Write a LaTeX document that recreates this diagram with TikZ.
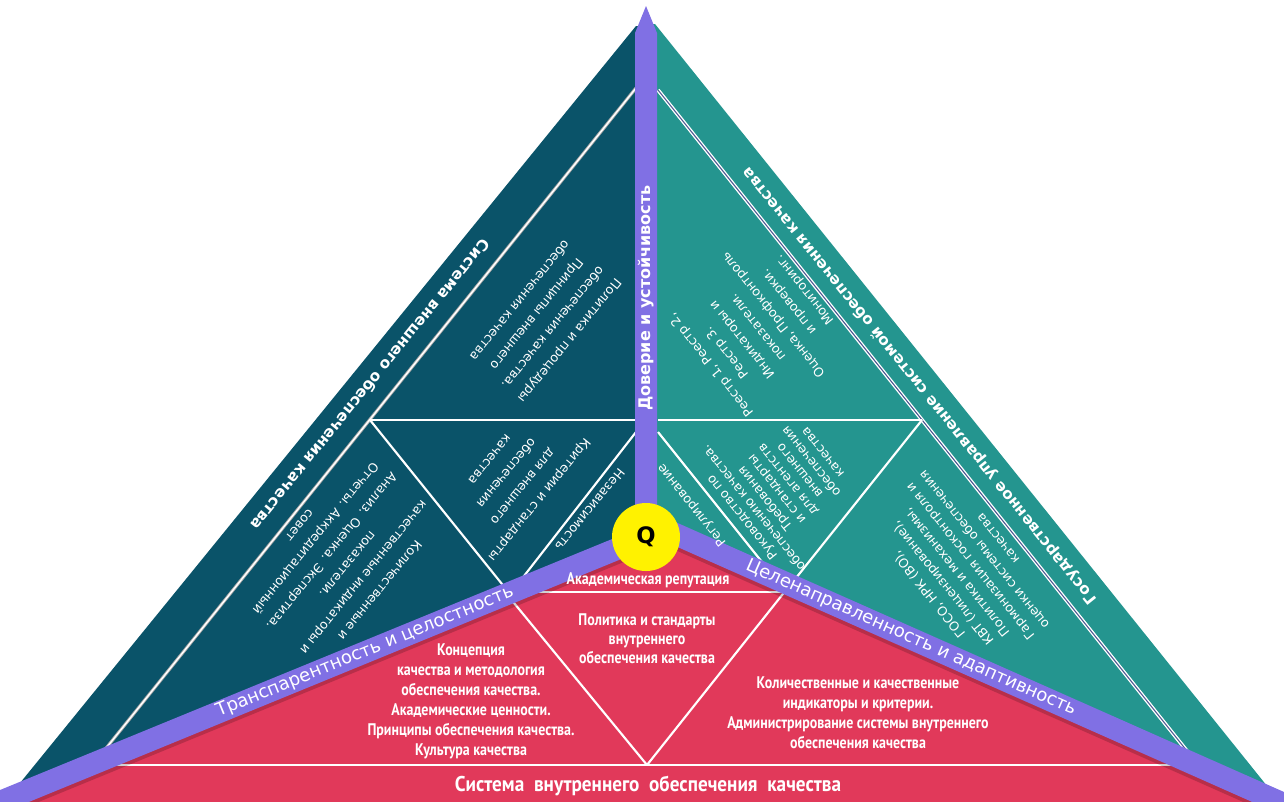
\documentclass[tikz,border=0pt]{standalone}
\usepackage{fontspec}
\setmainfont{DejaVu Sans}
\newfontfamily\condf[FakeStretch=0.83]{PT Sans}
\newfontfamily\condg[FakeStretch=0.9]{PT Sans}
\definecolor{darkteal}{HTML}{0A5369}
\definecolor{tealq}{HTML}{24958F}
\definecolor{redq}{HTML}{E1395A}
\definecolor{purpleq}{HTML}{8070E4}
\definecolor{navyq}{HTML}{4A5890}
\tikzset{
  ltxt/.style={text=white, font=\fontsize{9.5}{16}\selectfont, align=center, rotate=-129.1, inner sep=0pt},
  rtxt/.style={text=white, font=\fontsize{9.5}{15}\selectfont, align=center, rotate=128.8, inner sep=0pt},
  titleL/.style={text=white, font=\bfseries\fontsize{11.5}{14}\selectfont, rotate=-129.1, inner sep=0pt},
  titleR/.style={text=white, font=\bfseries\fontsize{11.5}{14}\selectfont, rotate=128.8, inner sep=0pt},
  bandtxt/.style={text=white, font=\fontsize{13.5}{16}\selectfont, inner sep=0pt},
  redtxt/.style={text=white, font=\condf\bfseries\fontsize{12.6}{15}\selectfont, align=center, inner sep=0pt},
  wl/.style={draw=white, line width=1.6pt},
  band/.style={draw=purpleq, line width=16.5pt},
  bandshadow/.style={draw=black, opacity=0.18, line width=16.5pt},
}
\begin{document}
\begin{tikzpicture}[x=0.75pt,y=-0.75pt]
\useasboundingbox (0,0) rectangle (1284,801);
\clip (0,0) rectangle (1284,801);
\fill[white] (0,0) rectangle (1284,801);
% sectors
\fill[darkteal] (636,26) -- (0,807.6) -- (646,537) -- (646,26) -- cycle;
\fill[tealq] (655,24) -- (1290,814.6) -- (646,521) -- (646,24) -- cycle;
\fill[redq] (646,530) -- (-50,822.4) -- (-50,850) -- (1334,850) -- (1334,826.2) -- cycle;
% left sector lines
\draw[draw=gray!70, line width=2.4pt] (636,88) -- (95,762);
\draw[draw=white, line width=1.1pt] (636,88) -- (95,762);
\draw[wl] (370,420) -- (636,420);
\draw[wl] (370,420) -- (510,594);
\draw[wl] (636,432) -- (510,594);
% right sector lines
\draw[draw=white, line width=2.8pt] (658,90) -- (1199,766);
\draw[draw=navyq, line width=0.8pt] (658,90) -- (1199,766);
\draw[wl] (658,420) -- (922,420);
\draw[wl] (922,420) -- (792,583);
\draw[wl] (658,432) -- (766,567);
% red sector lines
\draw[draw=white, line width=2.2pt] (100,765) -- (1190,765);
\draw[wl] (520,592) -- (790,592);
\draw[wl] (647,765) -- (505,592);
\draw[wl] (647,765) -- (790,585);
% band shadows
\draw[bandshadow] (646,541) -- (-50,826.4);
\draw[bandshadow] (646,525) -- (1334,830.2);
% bands
\draw[band] (646,537) -- (-50,822.4);
\draw[band] (646,521) -- (1334,826.2);
\fill[purpleq] (635,537) -- (635,33) -- (646,6) -- (657,33) -- (657,537) -- cycle;
% centre
\node[circle, fill=yellow, minimum size=51pt, inner sep=0pt, font=\bfseries\fontsize{17}{17}\selectfont] (Q) at (646,537) {Q};
% titles
\node[titleL] (tL) at (371,385) {Система внешнего обеспечения качества};
\node[titleR] (tR) at (920,386) {Государственное управление системой обеспечения качества};
% left texts
\node[ltxt] (l1) at (545,321) {Политика и процедуры\\обеспечения качества.\\Принципы внешнего\\обеспечения качества};
\node[ltxt] (l2) at (515,480) {Критерии и стандарты\\для внешнего\\обеспечения\\качества};
\node[ltxt] (l3) at (590,510) {Независимость};
\node[ltxt, font=\fontsize{9.5}{15.5}\selectfont] (l4) at (340,558) {Количественные и\\качественные индикаторы и\\показатели.\\Анализ. Оценка. Экспертиза.\\Отчеты. Аккредитационный\\совет};
% right texts
\node[rtxt] (r1) at (758,327) {Реестр 1, Реестр 2,\\Реестр 3.\\Индикаторы и\\показатели.\\Оценка, Профконтроль\\и проверки.\\Мониторинг.};
\node[rtxt, font=\fontsize{9.5}{11.1}\selectfont] (r2) at (782,485) {Руководство по\\обеспечению качества.\\Требования\\и стандарты\\для агентств\\внешнего\\обеспечения\\качества};
\node[rtxt] (r3) at (692,505) {Регулирование};
\node[rtxt, font=\fontsize{9.5}{13.3}\selectfont] (r4) at (963,567) {ГОСО, НРК (ВО),\\КВТ (лицензирование),\\Политика и механизмы,\\Гармонизация госконтроля и\\оценки системы обеспечения\\качества};
% band texts
\node[bandtxt, rotate=90, font=\bfseries\fontsize{12}{14}\selectfont] (bV) at (646,298) {Доверие и устойчивость};
\node[bandtxt, rotate=22.3] (bL) at (365,652) {Транспарентность и целостность};
\node[bandtxt, rotate=-23.9] (bR) at (911,638) {Целенаправленность и адаптивность};
% red texts
\node[redtxt] (ar) at (648,580) {Академическая репутация};
\node[redtxt] (c1) at (471,701) {Концепция\\качества и методология\\обеспечения качества.\\Академические ценности.\\Принципы обеспечения качества.\\Культура качества};
\node[redtxt, font=\condf\bfseries\fontsize{12.6}{14.3}\selectfont] (c2) at (647,639) {Политика и стандарты\\внутреннего\\обеспечения качества};
\node[redtxt] (c3) at (858,713) {Количественные и качественные\\индикаторы и критерии.\\Администрирование системы внутреннего\\обеспечения качества};
\node[redtxt, font=\condg\bfseries\fontsize{16}{16}\selectfont] (sys) at (648,786) {Система\ \ внутреннего\ \ обеспечения\ \ качества};
\end{tikzpicture}
\end{document}
